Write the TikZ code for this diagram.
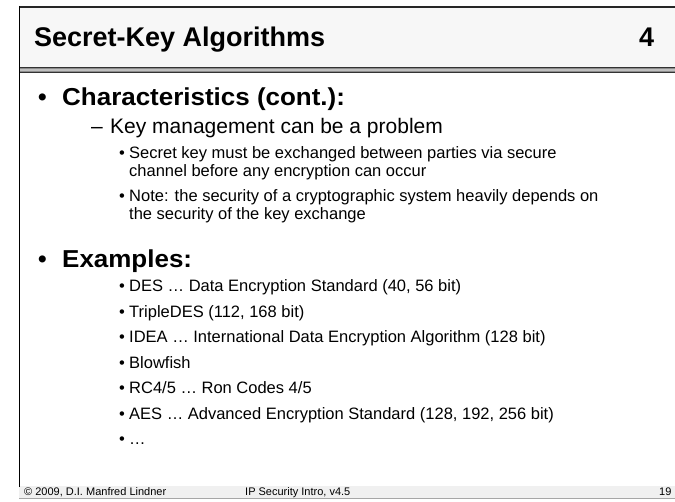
\documentclass[tikz,border=0pt]{standalone}
\usepackage{fontspec}
\setmainfont{Liberation Sans}
% wide type for the headings of the list
\newcommand\stretchx[2]{\scalebox{#1}[1]{#2}}
\begin{document}
\begin{tikzpicture}[x=1pt,y=-1pt,
  txt/.style={anchor=base west,inner sep=0pt,text=black},
  lvone/.style={txt,font=\fontsize{24.5}{28}\selectfont\bfseries},
  lvtwo/.style={txt,font=\fontsize{21}{24}\selectfont},
  lvthree/.style={txt,font=\fontsize{16.5}{19}\selectfont},
  foot/.style={txt,font=\fontsize{11}{12}\selectfont}]
\useasboundingbox (0,0) rectangle (675,502);
\fill[white] (0,0) rectangle (675,502);
% title box
\fill[black!3] (19,7) rectangle (676,67);
\draw[black!85,line width=2pt] (19,7) -- (676,7);
% double bar under the title
\fill[black!45] (19,67) rectangle (676,73);
\fill[black!25] (19,69) rectangle (676,71);
\draw[black!80,line width=1pt] (19,67.5) -- (676,67.5);
\draw[black!80,line width=1pt] (19,72.5) -- (676,72.5);
% footer band
\fill[black!6] (19,486) rectangle (676,498);
\draw[black!35,line width=0.8pt] (19,498) -- (676,498);
% left frame line
\draw[black,line width=1.5pt] (19.5,6) -- (19.5,487);
% title
\node[txt,font=\fontsize{27}{30}\selectfont\bfseries] (title) at (34,47) {Secret-Key Algorithms};
\node[txt,font=\fontsize{27}{30}\selectfont\bfseries] (num) at (639,47) {4};
% body
\node[lvone] (b1) at (38,106) {•};
\node[lvone] (t1) at (62,106) {\stretchx{1.06}{Characteristics (cont.):}};
\node[lvtwo] (d1) at (91,134) {–};
\node[lvtwo] (t2) at (110,134) {Key management can be a problem};
\node[lvthree] (b3) at (119,159) {•};
\node[lvthree] (t3) at (129,159) {Secret key must be exchanged between parties via secure};
\node[lvthree] (t3b) at (129,176.5) {channel before any encryption can occur};
\node[lvthree] (b4) at (119,202) {•};
\node[lvthree] (t4) at (129,202) {Note: the security of a cryptographic system heavily depends on};
\node[lvthree] (t4b) at (129,219.5) {the security of the key exchange};
\node[lvone] (b5) at (38,268) {•};
\node[lvone] (t5) at (62,268) {\stretchx{1.06}{Examples:}};
\foreach \y/\s [count=\i] in {292/{DES … Data Encryption Standard (40, 56 bit)},
  317.5/{TripleDES (112, 168 bit)},
  343/{IDEA … International Data Encryption Algorithm (128 bit)},
  368.5/{Blowfish},
  394/{RC4/5 … Ron Codes 4/5},
  419.5/{AES … Advanced Encryption Standard (128, 192, 256 bit)},
  445/{…}}{
  \node[lvthree] (eb\i) at (119,\y) {•};
  \node[lvthree] (et\i) at (129,\y) {\s};
}
% footer
\node[foot] (f1) at (24,495.5) {© 2009, D.I. Manfred Lindner};
\node[foot] (f2) at (245,495.5) {IP Security Intro, v4.5};
\node[foot] (f3) at (659,495.5) {19};
\end{tikzpicture}
\end{document}
